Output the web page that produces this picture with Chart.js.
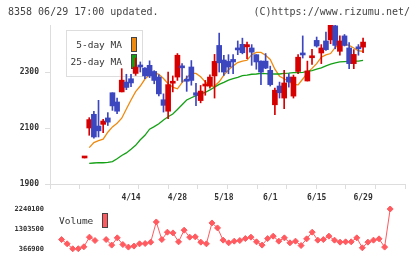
<!DOCTYPE html>
<html lang="ja">
<head>
<meta charset="UTF-8" />
<title>8358</title>
<script src="https://cdn.jsdelivr.net/npm/chart.js"></script>
<style>
  body { margin: 0; background: #fff; }
  .wrap { position: relative; width: 420px; height: 259px; overflow: hidden; font-family: "DejaVu Sans Mono", monospace; }
  .head { position: absolute; top: 6px; font-size: 10px; line-height: 12px; color: #444; white-space: nowrap; }
  #updated { left: 8px; }
  #copy { right: 10px; }
  #main { position: absolute; left: 0; top: 0; }
  #vol { position: absolute; left: 0; top: 195px; }
</style>
</head>
<body>
<div class="wrap">
  <canvas id="main" width="420" height="205"></canvas>
  <canvas id="vol" width="420" height="64"></canvas>
  <div class="head" id="updated">8358 06/29 17:00 updated.</div>
  <div class="head" id="copy">(C)https://www.rizumu.net/</div>
</div>

<script>
// trading days
const dates = ['3/31','4/1','4/2','4/3','4/6','4/7','4/8','4/9','4/10','4/13',
  '4/14','4/15','4/16','4/17','4/20','4/21','4/22','4/23','4/24','4/27',
  '4/28','4/30','5/1','5/7','5/8','5/11','5/12','5/13','5/14','5/15',
  '5/18','5/19','5/20','5/21','5/22','5/25','5/26','5/27','5/28','5/29',
  '6/1','6/2','6/3','6/4','6/5','6/8','6/9','6/10','6/11','6/12',
  '6/15','6/16','6/17','6/18','6/19','6/22','6/23','6/24','6/25','6/26','6/29'];
const tickDays = ['4/14','4/28','5/18','6/1','6/15','6/29'];
const yTicks = [1900, 2100, 2300];
const volTicks = [366900, 1303500, 2240100];

const opens  = [1993,2100,2149,2107,2113,2136,2226,2193,2229,2264,2276,2295,2321,2314,2324,2302,2282,2201,2160,2260,
  2282,2319,2274,2318,2226,2198,2250,2250,2286,2395,2343,2338,2345,2383,2399,2390,2386,2362,2339,2339,
  2306,2183,2250,2207,2282,2214,2302,2364,2268,2351,2413,2368,2411,2415,2465,2374,2429,2386,2330,2389,2389];
const highs  = [1993,2137,2160,2199,2131,2155,2226,2207,2312,2292,2292,2350,2336,2316,2340,2305,2290,2222,2300,2286,
  2366,2330,2286,2341,2260,2252,2270,2290,2363,2439,2360,2362,2362,2411,2421,2407,2398,2362,2340,2366,
  2321,2243,2264,2306,2294,2289,2362,2429,2339,2381,2425,2398,2443,2490,2475,2429,2434,2405,2380,2398,2421];
const lows   = [1993,2074,2064,2068,2083,2109,2163,2151,2229,2237,2248,2288,2300,2276,2280,2258,2215,2157,2133,2229,
  2270,2264,2231,2253,2180,2190,2217,2242,2207,2300,2288,2294,2294,2362,2365,2348,2324,2310,2255,2312,
  2250,2148,2207,2169,2246,2207,2294,2350,2268,2327,2389,2330,2377,2401,2383,2360,2393,2312,2312,2360,2369];
const closes = [1993,2130,2068,2090,2125,2121,2179,2160,2271,2245,2261,2318,2318,2286,2286,2270,2222,2181,2255,2263,
  2360,2315,2267,2270,2217,2232,2254,2282,2338,2333,2300,2318,2336,2379,2369,2398,2371,2336,2300,2314,
  2255,2235,2226,2261,2264,2282,2353,2361,2304,2355,2393,2386,2380,2475,2395,2411,2395,2330,2363,2383,2407];

const ma5 = [null,2030,2048,2055,2060,2085,2104,2117,2135,2168,2200,2230,2250,2275,2290,2298,2292,2277,2258,2246,
  2240,2262,2280,2295,2295,2283,2265,2249,2250,2265,2289,2307,2322,2334,2339,2342,2362,2370,2370,2360,
  2345,2310,2285,2276,2266,2256,2254,2275,2297,2313,2330,2353,2361,2366,2388,2400,2400,2395,2386,2376,2374];
const ma25 = [null,1974,1975,1976,1976,1977,1980,1990,2002,2011,2024,2038,2058,2074,2096,2105,2115,2129,2140,2150,
  2166,2183,2200,2208,2216,2222,2227,2236,2246,2256,2263,2271,2276,2281,2287,2289,2292,2293,2295,2294,
  2293,2293,2293,2295,2296,2298,2298,2299,2302,2305,2310,2315,2322,2328,2333,2336,2337,2338,2339,2339,2342];

const volume = [null,802000,601000,366900,370000,460000,915000,756000,null,802000,540000,882000,568000,447000,493000,601000,615000,680000,1631000,802000,
  1149000,1116000,695000,1243000,915000,929000,680000,601000,1584000,1350000,774000,648000,727000,756000,849000,915000,695000,540000,849000,962000,
  727000,882000,648000,727000,521000,835000,1149000,774000,802000,962000,774000,680000,695000,695000,882000,414000,680000,774000,835000,447000,2240100];

const RED = '#d60000';
const BLUE = '#3c46be';
const ORANGE = '#ef8a10';
const GREEN = '#14a014';
const PINK = '#ff5a5f';
const AXIS = '#dddddd';
const TEXT = '#333333';
const tickFont = { family: 'DejaVu Sans Mono', size: 8, weight: 'bold' };
const xRange = { min: -1.08, max: 62.66 };

const upColor = i => closes[i] >= opens[i] ? RED : BLUE;

// MA legend box (drawn under the candles)
const maLegend = {
  id: 'maLegend',
  afterDatasetDraw(chart, args) {
    if (chart.data.datasets[args.index].label !== '25-day MA') return;
    const ctx = chart.ctx;
    ctx.save();
    ctx.fillStyle = '#fff';
    ctx.fillRect(66, 30, 77, 47);
    ctx.strokeStyle = AXIS;
    ctx.lineWidth = 1;
    ctx.strokeRect(66.5, 30.5, 76, 46);
    ctx.font = '9.5px "DejaVu Sans Mono"';
    ctx.textAlign = 'right';
    ctx.textBaseline = 'middle';
    [['5-day MA', ORANGE], ['25-day MA', GREEN]].forEach(([txt, col], k) => {
      const top = 37 + k * 17;
      ctx.fillStyle = TEXT;
      ctx.fillText(txt, 122, top + 8.5);
      ctx.fillStyle = col;
      ctx.fillRect(131, top, 6, 15);
      ctx.strokeStyle = '#444';
      ctx.strokeRect(131.5, top + 0.5, 5, 14);
    });
    ctx.restore();
  }
};

new Chart(document.getElementById('main'), {
  type: 'bar',
  data: {
    datasets: [
      {
        type: 'line', label: '5-day MA',
        data: ma5.map((v, i) => ({ x: i, y: v })),
        borderColor: ORANGE, borderWidth: 1.3, pointRadius: 0, order: 4
      },
      {
        type: 'line', label: '25-day MA',
        data: ma25.map((v, i) => ({ x: i, y: v })),
        borderColor: GREEN, borderWidth: 1.3, pointRadius: 0, order: 3
      },
      {
        label: 'wick',
        data: lows.map((l, i) => ({ x: i, y: [l, highs[i]] })),
        backgroundColor: ctx => upColor(ctx.dataIndex),
        barThickness: 1, minBarLength: 1, grouped: false, order: 2, clip: 0
      },
      {
        label: 'body',
        data: opens.map((o, i) => ({ x: i, y: [o, closes[i]] })),
        backgroundColor: ctx => upColor(ctx.dataIndex),
        barThickness: 5, minBarLength: 2, grouped: false, order: 1, clip: 0
      }
    ]
  },
  options: {
    responsive: false,
    animation: false,
    layout: { padding: { top: 25, right: 15, left: 0, bottom: 0 } },
    plugins: { legend: { display: false }, tooltip: { enabled: false } },
    scales: {
      x: {
        type: 'linear', position: 'bottom', weight: 1, ...xRange,
        grid: { display: false, drawTicks: false }, border: { display: false },
        afterBuildTicks: s => { s.ticks = tickDays.map(d => ({ value: dates.indexOf(d) })); },
        ticks: { callback: v => dates[v], font: tickFont, color: TEXT, padding: 4, maxRotation: 0, autoSkip: false },
        afterFit: s => { s.height = 16; }
      },
      xg: {
        type: 'linear', position: 'bottom', weight: 0, min: 0, max: 11,
        ticks: { display: false, stepSize: 1 },
        grid: { drawOnChartArea: false, tickLength: 5, color: AXIS },
        border: { color: AXIS },
        afterFit: s => { s.height = 5; }
      },
      y: {
        min: 1900, max: 2468,
        afterBuildTicks: s => { s.ticks = yTicks.map(v => ({ value: v })); },
        ticks: { callback: v => String(v), font: tickFont, color: TEXT, padding: 6 },
        grid: { drawOnChartArea: false, tickLength: 5, color: AXIS },
        border: { color: AXIS },
        afterFit: s => { s.width = 50; }
      }
    }
  },
  plugins: [maLegend]
});

// Volume legend
const volLegend = {
  id: 'volLegend',
  beforeDatasetsDraw(chart) {
    const ctx = chart.ctx;
    ctx.save();
    ctx.font = '9.5px "DejaVu Sans Mono"';
    ctx.textAlign = 'left';
    ctx.textBaseline = 'middle';
    ctx.fillStyle = TEXT;
    ctx.fillText('Volume', 59, 27);
    ctx.fillStyle = PINK;
    ctx.fillRect(102, 18, 6, 15);
    ctx.strokeStyle = '#444';
    ctx.strokeRect(102.5, 18.5, 5, 14);
    ctx.restore();
  }
};

new Chart(document.getElementById('vol'), {
  type: 'line',
  data: {
    datasets: [{
      label: 'Volume',
      data: volume.map((v, i) => ({ x: i, y: v })),
      borderColor: PINK, backgroundColor: PINK, borderWidth: 1,
      pointStyle: 'rectRot', pointRadius: 3, pointBorderWidth: 1,
      spanGaps: false, clip: false
    }]
  },
  options: {
    responsive: false,
    animation: false,
    layout: { padding: { top: 14, right: 15, left: 0, bottom: 10 } },
    plugins: { legend: { display: false }, tooltip: { enabled: false } },
    scales: {
      x: { type: 'linear', ...xRange, display: false },
      y: {
        min: volTicks[0], max: volTicks[volTicks.length - 1],
        afterBuildTicks: s => { s.ticks = volTicks.map(v => ({ value: v })); },
        ticks: { callback: v => String(v), font: { family: 'DejaVu Sans Mono', size: 7, weight: 'bold' }, color: TEXT, padding: 6 },
        grid: { display: false, drawTicks: false },
        border: { display: false },
        afterFit: s => { s.width = 50; }
      }
    }
  },
  plugins: [volLegend]
});
</script>
</body>
</html>
